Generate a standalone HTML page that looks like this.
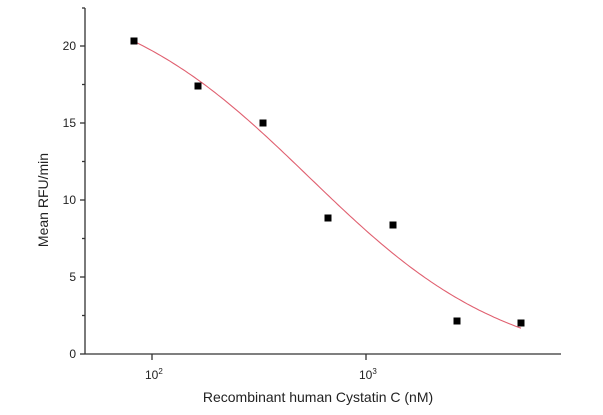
<!DOCTYPE html>
<html><head><style>body{margin:0;background:#fff}svg{display:block}text{font-family:"Liberation Sans",Arial,sans-serif;fill:#222}</style></head>
<body>
<svg id="s" width="603" height="415" viewBox="0 0 603 415" xmlns="http://www.w3.org/2000/svg">
<g stroke="#333" stroke-width="1.3" fill="none">
<line x1="85" y1="8" x2="85" y2="354.5"/>
<line x1="85" y1="354" x2="561" y2="354"/>
<line x1="80" y1="354" x2="85" y2="354"/>
<line x1="80" y1="277" x2="85" y2="277"/>
<line x1="80" y1="200" x2="85" y2="200"/>
<line x1="80" y1="123" x2="85" y2="123"/>
<line x1="80" y1="46" x2="85" y2="46"/>
<line x1="82" y1="315.5" x2="85" y2="315.5"/>
<line x1="82" y1="238.5" x2="85" y2="238.5"/>
<line x1="82" y1="161.5" x2="85" y2="161.5"/>
<line x1="82" y1="84.5" x2="85" y2="84.5"/>
<line x1="82" y1="8" x2="85" y2="8"/>
<line x1="152" y1="354" x2="152" y2="360"/>
<line x1="366" y1="354" x2="366" y2="360"/>
</g>
<g font-size="12" text-anchor="end">
<text x="76" y="358">0</text><text x="76" y="281">5</text><text x="76" y="204">10</text><text x="76" y="127">15</text><text x="76" y="50">20</text>
</g>
<text x="145" y="379" font-size="12">10<tspan font-size="8" dy="-5">2</tspan></text>
<text x="359" y="379" font-size="12">10<tspan font-size="8" dy="-5">3</tspan></text>
<text x="318" y="402" font-size="14" text-anchor="middle">Recombinant human Cystatin C (nM)</text>
<text transform="translate(48,200) rotate(-90)" font-size="14" text-anchor="middle">Mean RFU/min</text>
<path id="c" fill="none" stroke="#e06070" stroke-width="1.1"/>
<g fill="#000">
<rect x="130.5" y="37.5" width="7" height="7"/><rect x="194.5" y="82.5" width="7" height="7"/><rect x="259.5" y="119.5" width="7" height="7"/><rect x="324.5" y="214.5" width="7" height="7"/><rect x="389.5" y="221.5" width="7" height="7"/><rect x="453.5" y="317.5" width="7" height="7"/><rect x="517.5" y="319.5" width="7" height="7"/>
</g>
</svg>
<script>
var d="";for(var px=134;px<=521;px+=3){var u=(px-152)/214;var y=-1+25/(1+Math.pow(10,0.93*(u-0.733)));var py=354-y*15.4;d+=(d?"L":"M")+px+","+py.toFixed(1);}
document.getElementById("c").setAttribute("d",d);
</script>
</body></html>
